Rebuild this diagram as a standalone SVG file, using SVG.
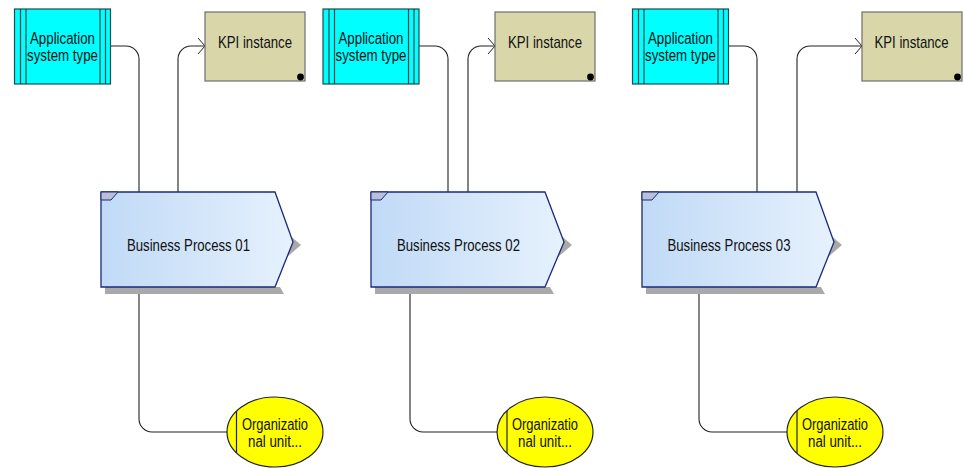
<svg xmlns="http://www.w3.org/2000/svg" width="963" height="468" viewBox="0 0 963 468">
  <defs>
    <linearGradient id="procFill" x1="0" y1="0" x2="1" y2="0">
      <stop offset="0" stop-color="#C0DAF6"/>
      <stop offset="1" stop-color="#E6F1FD"/>
    </linearGradient>
    <marker id="openArrow" viewBox="-9 -10 11 20" markerWidth="11" markerHeight="20" refX="0" refY="0" orient="auto" markerUnits="userSpaceOnUse">
      <path d="M-7,-8 L0,0 L-7,8" fill="none" stroke="#222" stroke-width="1"/>
    </marker>
  </defs>
  <style>
    text { font-family: "Liberation Sans Narrow", "Liberation Sans", Arial, sans-serif; font-size: 17px; fill: #111; text-anchor: middle; }
    .small { font-size: 16px; }
    .app { fill: #00FFFF; stroke: #1E4A4C; stroke-width: 1.2; }
    .appline { stroke: #1E4A4C; stroke-width: 1.2; }
    .kpi { fill: #D9D7A9; stroke: #6E6E6E; stroke-width: 1.2; }
    .dot { fill: #000; }
    .shadow { fill: #A9A9A9; }
    .proc { fill: url(#procFill); stroke: #1B2A7A; stroke-width: 1.3; }
    .flag { fill: #B9C1D9; stroke: #1B2A7A; stroke-width: 1; }
    .org { fill: #FFFF00; stroke: #222; stroke-width: 1.2; }
    .orgline { stroke: #222; stroke-width: 1.2; }
    .conn { fill: none; stroke: #222; stroke-width: 1.1; }
    .arrow { marker-end: url(#openArrow); }
  </style>

  <rect x="0" y="0" width="963" height="468" fill="#FFFFFF"/>

  <!-- connectors -->
  <g id="connectors">
    <path class="conn" d="M110,46 H126 A13,13 0 0 1 139,59 V192"/>
    <path class="conn arrow" d="M178,192 V59 A13,13 0 0 1 191,46 H205"/>
    <path class="conn" d="M139,287 V419 A13,13 0 0 0 152,432 H227"/>

    <path class="conn" d="M419,46 H435 A13,13 0 0 1 448,59 V192"/>
    <path class="conn arrow" d="M468,192 V59 A13,13 0 0 1 481,46 H495"/>
    <path class="conn" d="M410,287 V419 A13,13 0 0 0 423,432 H497"/>

    <path class="conn" d="M728,46 H744 A13,13 0 0 1 757,59 V192"/>
    <path class="conn arrow" d="M797,192 V59 A13,13 0 0 1 810,46 H862"/>
    <path class="conn" d="M699,287 V419 A13,13 0 0 0 712,432 H787"/>
  </g>

  <!-- column 1 -->
  <g id="app1">
    <rect class="app" x="14.5" y="9" width="96" height="75"/>
    <line class="appline" x1="20.5" y1="9" x2="20.5" y2="84"/>
    <line class="appline" x1="26" y1="9" x2="26" y2="84"/>
    <line class="appline" x1="100" y1="9" x2="100" y2="84"/>
    <line class="appline" x1="105.5" y1="9" x2="105.5" y2="84"/>
    <text class="small" x="62.5" y="43.5" textLength="65" lengthAdjust="spacingAndGlyphs">Application</text>
    <text class="small" x="62.5" y="61" textLength="71" lengthAdjust="spacingAndGlyphs">system type</text>
  </g>
  <g id="kpi1">
    <rect class="kpi" x="205" y="12" width="100" height="69"/>
    <circle class="dot" cx="300.5" cy="77" r="3.4"/>
    <text x="255" y="48" textLength="74" lengthAdjust="spacingAndGlyphs">KPI instance</text>
  </g>
  <g id="process1">
    <polygon class="shadow" points="105,287 280,287 284,294 105,294"/>
    <polygon class="shadow" points="287,233 301,245 287,257"/>
    <polygon class="proc" points="101,192 275,192 293,242 275,287 101,287"/>
    <polygon class="flag" points="101,192 118,192 111,200 101,200"/>
    <text x="188.5" y="250.5" textLength="123" lengthAdjust="spacingAndGlyphs">Business Process 01</text>
  </g>
  <g id="org1">
    <ellipse class="org" cx="275" cy="432" rx="48" ry="35"/>
    <line class="orgline" x1="236.5" y1="411" x2="236.5" y2="453"/>
    <text class="small" x="275" y="429.5" textLength="66" lengthAdjust="spacingAndGlyphs">Organizatio</text>
    <text class="small" x="275" y="447" textLength="54" lengthAdjust="spacingAndGlyphs">nal unit...</text>
  </g>

  <!-- column 2 -->
  <g id="app2">
    <rect class="app" x="323" y="9" width="96" height="75"/>
    <line class="appline" x1="329" y1="9" x2="329" y2="84"/>
    <line class="appline" x1="334.5" y1="9" x2="334.5" y2="84"/>
    <line class="appline" x1="408.5" y1="9" x2="408.5" y2="84"/>
    <line class="appline" x1="414" y1="9" x2="414" y2="84"/>
    <text class="small" x="371" y="43.5" textLength="65" lengthAdjust="spacingAndGlyphs">Application</text>
    <text class="small" x="371" y="61" textLength="71" lengthAdjust="spacingAndGlyphs">system type</text>
  </g>
  <g id="kpi2">
    <rect class="kpi" x="495" y="12" width="100" height="69"/>
    <circle class="dot" cx="590.5" cy="77" r="3.4"/>
    <text x="545" y="48" textLength="74" lengthAdjust="spacingAndGlyphs">KPI instance</text>
  </g>
  <g id="process2">
    <polygon class="shadow" points="375,287 550,287 554,294 375,294"/>
    <polygon class="shadow" points="558,233 572,245 558,257"/>
    <polygon class="proc" points="371,192 545,192 564,242 545,287 371,287"/>
    <polygon class="flag" points="371,192 388,192 381,200 371,200"/>
    <text x="458.5" y="250.5" textLength="123" lengthAdjust="spacingAndGlyphs">Business Process 02</text>
  </g>
  <g id="org2">
    <ellipse class="org" cx="545" cy="432" rx="48" ry="35"/>
    <line class="orgline" x1="507" y1="411" x2="507" y2="453"/>
    <text class="small" x="545" y="429.5" textLength="66" lengthAdjust="spacingAndGlyphs">Organizatio</text>
    <text class="small" x="545" y="447" textLength="54" lengthAdjust="spacingAndGlyphs">nal unit...</text>
  </g>

  <!-- column 3 -->
  <g id="app3">
    <rect class="app" x="632.5" y="9" width="96" height="75"/>
    <line class="appline" x1="638.5" y1="9" x2="638.5" y2="84"/>
    <line class="appline" x1="644" y1="9" x2="644" y2="84"/>
    <line class="appline" x1="718" y1="9" x2="718" y2="84"/>
    <line class="appline" x1="723.5" y1="9" x2="723.5" y2="84"/>
    <text class="small" x="680.5" y="43.5" textLength="65" lengthAdjust="spacingAndGlyphs">Application</text>
    <text class="small" x="680.5" y="61" textLength="71" lengthAdjust="spacingAndGlyphs">system type</text>
  </g>
  <g id="kpi3">
    <rect class="kpi" x="862" y="12" width="100" height="69"/>
    <circle class="dot" cx="957.5" cy="77" r="3.4"/>
    <text x="911.5" y="48" textLength="74" lengthAdjust="spacingAndGlyphs">KPI instance</text>
  </g>
  <g id="process3">
    <polygon class="shadow" points="646,287 821,287 825,294 646,294"/>
    <polygon class="shadow" points="828,233 842,245 828,257"/>
    <polygon class="proc" points="642,192 816,192 834,242 816,287 642,287"/>
    <polygon class="flag" points="642,192 659,192 652,200 642,200"/>
    <text x="729" y="250.5" textLength="123" lengthAdjust="spacingAndGlyphs">Business Process 03</text>
  </g>
  <g id="org3">
    <ellipse class="org" cx="835" cy="432" rx="48" ry="35"/>
    <line class="orgline" x1="797" y1="411" x2="797" y2="453"/>
    <text class="small" x="835" y="429.5" textLength="66" lengthAdjust="spacingAndGlyphs">Organizatio</text>
    <text class="small" x="835" y="447" textLength="54" lengthAdjust="spacingAndGlyphs">nal unit...</text>
  </g>
</svg>
